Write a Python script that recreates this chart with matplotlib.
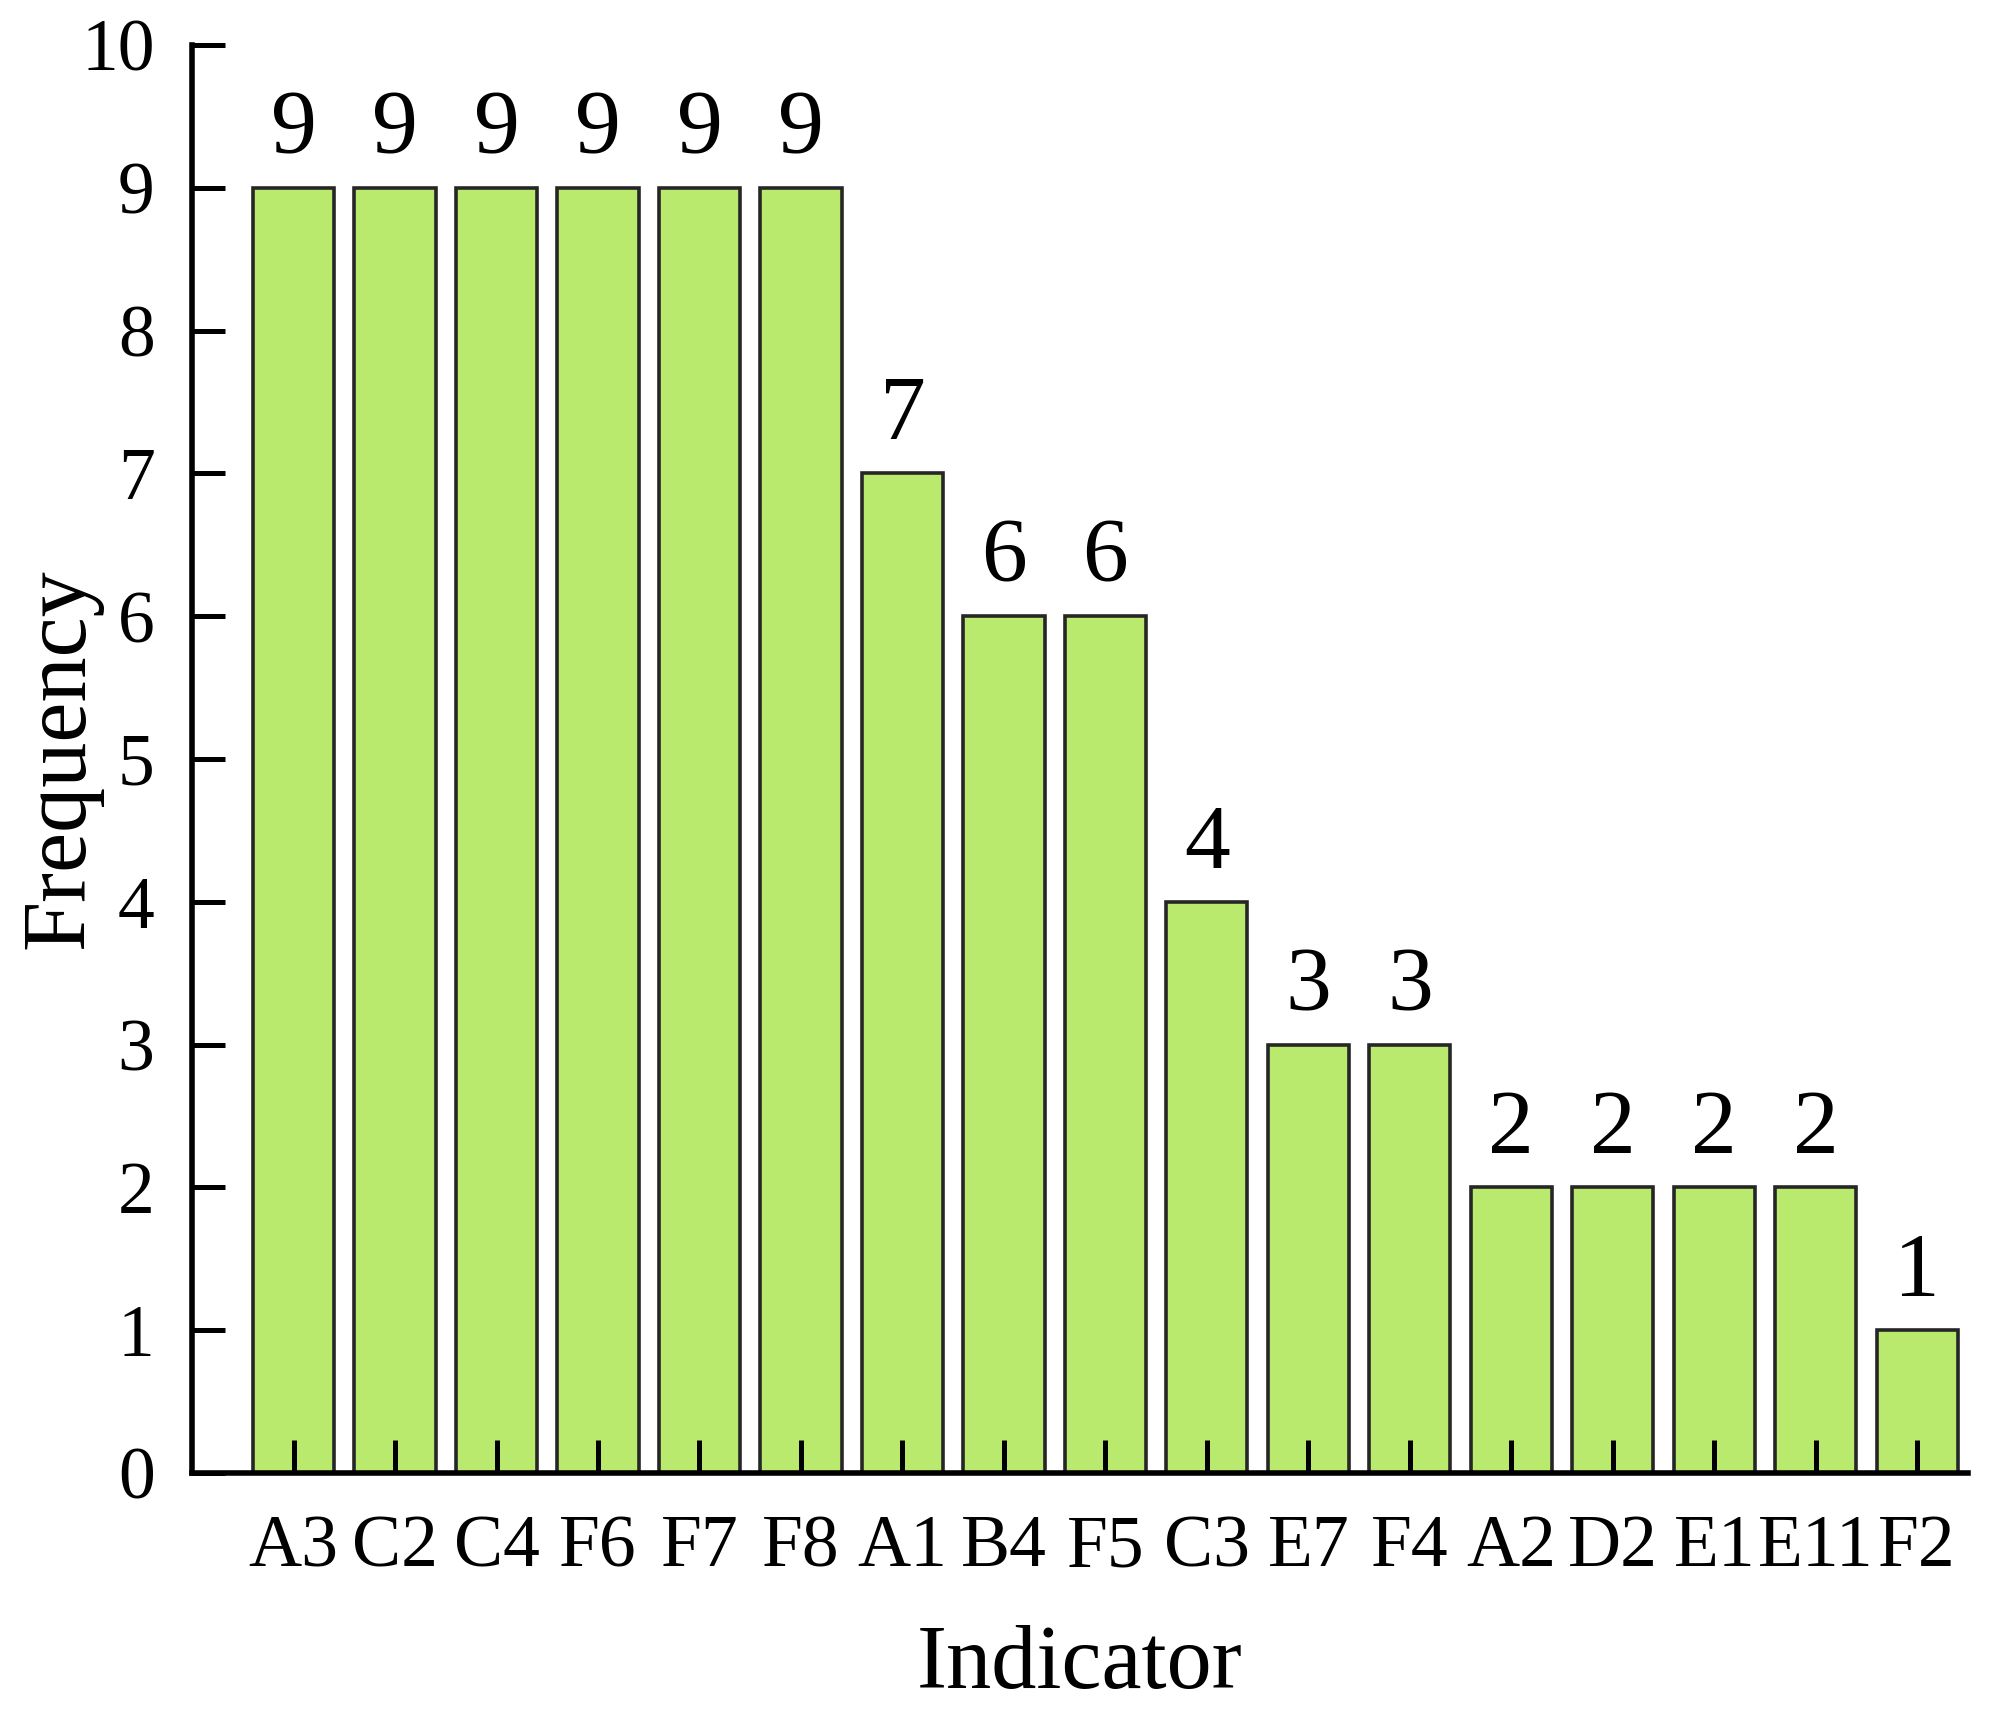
import matplotlib
matplotlib.use("Agg")
import matplotlib.pyplot as plt

categories = ["A3", "C2", "C4", "F6", "F7", "F8", "A1", "B4", "F5", "C3",
              "E7", "F4", "A2", "D2", "E1", "E11", "F2"]
frequency = [9, 9, 9, 9, 9, 9, 7, 6, 6, 4, 3, 3, 2, 2, 2, 2, 1]
y_ticks = [0, 1, 2, 3, 4, 5, 6, 7, 8, 9, 10]

plt.rcParams['font.family'] = ['Liberation Serif', 'DejaVu Serif']

fig = plt.figure(figsize=(20.01, 17.14), dpi=100)
ax = fig.add_axes([0.096, 0.1406, 0.8875, 0.8331])

x = list(range(len(categories)))
bars = ax.bar(x, frequency, width=0.8, color="#b9ea6e", edgecolor="#262626",
              linewidth=2.6)
ax.bar_label(bars, labels=[str(v) for v in frequency], padding=11, fontsize=66)

ax.set_xlim(-1, len(categories) - 0.5)
ax.set_ylim(0, 10)
ax.set_xticks(x)
ax.set_xticklabels(categories)
ax.set_yticks(y_ticks)

for s in ["top", "right"]:
    ax.spines[s].set_visible(False)
for s in ["left", "bottom"]:
    ax.spines[s].set_linewidth(4)

ax.tick_params(axis="x", direction="in", length=24, width=3.6, pad=30, labelsize=53)
ax.tick_params(axis="y", direction="in", length=24, width=3.6, pad=27, labelsize=53)

ax.set_xlabel("Indicator", fontsize=65)
ax.set_ylabel("Frequency", fontsize=65)
ax.xaxis.set_label_coords(0.5, -0.106)
ax.yaxis.set_label_coords(-0.0507, 0.5)

fig.savefig("out.png", dpi=100)
